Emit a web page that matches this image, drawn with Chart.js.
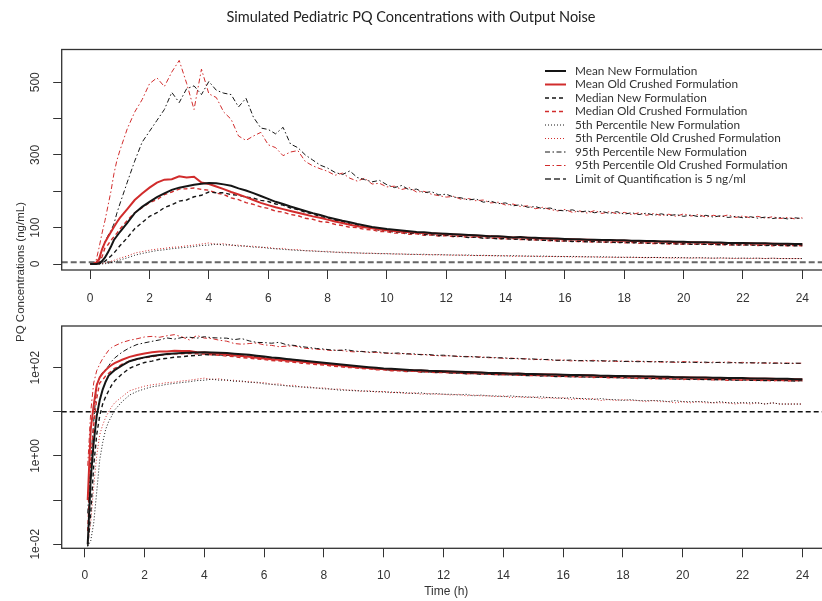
<!DOCTYPE html>
<html>
<head>
<meta charset="utf-8">
<script src="https://cdn.jsdelivr.net/npm/chart.js@4.4.1/dist/chart.umd.min.js"></script>
<style>
  html, body { margin: 0; padding: 0; overflow: hidden; background: #fff; }
  #wrap { position: relative; width: 822px; height: 601px; overflow: hidden; }
  canvas { position: absolute; left: 0; top: 0; }
</style>
</head>
<body>
<div id="wrap">
  <canvas id="linChart" width="832" height="601"></canvas>
  <canvas id="logChart" width="832" height="601"></canvas>
</div>
<script>
// time grid (h)
const times = [0, 0.1, 0.2, 0.3, 0.4, 0.5, 0.6, 0.7, 0.8, 0.9, 1,
  1.25, 1.5, 1.75, 2, 2.25, 2.5, 2.75, 3, 3.25, 3.5, 3.75, 4,
  4.25, 4.5, 4.75, 5, 5.25, 5.5, 5.75, 6, 6.25, 6.5, 6.75, 7,
  7.25, 7.5, 7.75, 8, 8.25, 8.5, 8.75, 9, 9.25, 9.5, 9.75, 10,
  10.25, 10.5, 10.75, 11, 11.25, 11.5, 11.75, 12, 12.25, 12.5, 12.75, 13,
  13.25, 13.5, 13.75, 14, 14.25, 14.5, 14.75, 15, 15.25, 15.5, 15.75, 16,
  16.25, 16.5, 16.75, 17, 17.25, 17.5, 17.75, 18, 18.25, 18.5, 18.75, 19,
  19.25, 19.5, 19.75, 20, 20.25, 20.5, 20.75, 21, 21.25, 21.5, 21.75, 22,
  22.25, 22.5, 22.75, 23, 23.25, 23.5, 23.75, 24];

// concentrations (ng/mL)
const meanNew = [0, 0.01, 0.3, 2, 8, 18, 32, 48, 66, 77, 88,
  113, 140, 157, 171, 184, 194, 204, 210, 214, 218, 221, 223,
  222, 219, 215, 208, 202, 195, 187, 179, 171, 165, 158, 152,
  146, 140, 135, 129, 124, 119, 115, 110, 106, 102, 99, 96,
  94, 92, 90, 88, 87, 85, 84, 83, 82, 81, 80, 79,
  78, 76, 76, 75, 73, 74, 72, 72, 71, 70, 70, 69,
  68, 68, 67, 67, 66, 66, 65, 65, 64, 64, 63, 63,
  62, 62, 61, 61, 60, 60, 60, 59, 59, 58, 58, 58,
  57, 57, 57, 56, 56, 56, 55, 55];
const meanOld = [0, 0.1, 4, 14, 40, 60, 74, 88, 102, 115, 127,
  151, 176, 194, 210, 224, 232, 233, 241, 238, 240, 224, 220,
  213, 206, 198, 191, 184, 176, 168, 162, 156, 151, 146, 141,
  136, 131, 127, 122, 117, 113, 108, 104, 101, 98, 95, 93,
  91, 89, 88, 86, 85, 84, 83, 82, 81, 80, 79, 78,
  77, 76, 75, 74, 73, 73, 72, 71, 70, 70, 69, 68,
  68, 67, 67, 66, 65, 65, 64, 64, 63, 63, 62, 62,
  61, 61, 60, 60, 60, 59, 59, 58, 58, 58, 57, 57,
  57, 56, 56, 56, 55, 55, 55, 54];
const medianNew = [0, 0.009, 0.05, 0.6, 3, 8, 15, 22, 30, 40, 50,
  72, 97, 114, 131, 141, 155, 163, 173, 176, 185, 189, 198,
  196, 196, 191, 189, 184, 181, 175, 172, 165, 162, 154, 150,
  142, 138, 130, 127, 120, 117, 110, 107, 101, 99, 93, 92,
  88, 88, 84, 85, 81, 81, 78, 79, 76, 76, 73, 74,
  71, 72, 69, 70, 68, 69, 66, 67, 65, 66, 63, 64,
  62, 63, 61, 62, 60, 61, 59, 60, 58, 59, 57, 58,
  56, 57, 55, 56, 54, 55, 54, 54, 53, 54, 52, 53,
  52, 52, 51, 52, 51, 51, 50, 51];
const medianOld = [0, 0.02, 0.6, 5, 20, 45, 53, 65, 75, 85, 96,
  120, 141, 155, 169, 177, 191, 198, 206, 207, 209, 205, 203,
  195, 191, 182, 177, 169, 164, 157, 153, 145, 143, 136, 133,
  126, 123, 117, 115, 109, 106, 101, 100, 95, 94, 89, 89,
  85, 85, 82, 83, 79, 80, 77, 78, 75, 76, 73, 74,
  72, 71, 70, 69, 69, 67, 67, 66, 66, 64, 64, 63,
  63, 61, 62, 60, 61, 59, 60, 58, 59, 57, 58, 56,
  57, 55, 56, 54, 56, 54, 55, 53, 54, 52, 53, 52,
  53, 51, 52, 50, 52, 50, 51, 50];
const p5New = [0, 0.009, 0.012, 0.03, 0.15, 0.8, 2, 4, 6, 8, 11,
  17, 24, 29, 33, 37, 39, 42, 44, 46, 48, 51, 52,
  55, 52, 53, 49, 50, 46, 47, 43, 42, 40, 39, 37,
  37, 35, 35, 33, 33, 31, 31, 30, 30, 29, 29, 28,
  28, 27, 27, 26, 27, 25, 26, 25, 25, 24, 25, 23,
  24, 23, 23, 22, 23, 22, 22, 21, 22, 21, 21, 20,
  21, 20, 20, 19, 20, 19, 19, 18, 19, 18, 18, 18,
  18, 17, 18, 17, 17, 17, 17, 16, 17, 16, 16, 16,
  16, 16, 15, 16, 15, 15, 15, 15];
const p5Old = [0, 0.01, 0.03, 0.2, 1, 3, 5, 7.5, 10, 13, 16,
  22, 30, 34, 38, 41, 43, 46, 47, 50, 52, 55, 58,
  54, 56, 51, 52, 48, 49, 45, 46, 42, 43, 39, 40,
  36, 37, 34, 35, 32, 33, 31, 31, 29, 30, 28, 29,
  27, 28, 26, 27, 25, 26, 25, 25, 24, 25, 23, 24,
  23, 23, 22, 23, 21, 22, 21, 22, 20, 21, 20, 21,
  19, 20, 19, 20, 18, 19, 18, 19, 18, 18, 17, 18,
  17, 17, 16, 17, 16, 17, 16, 16, 16, 16, 15, 16,
  15, 16, 15, 16, 15, 15, 15, 15];
const p95New = [0, 0.05, 0.8, 6, 40, 62, 78, 92, 110, 140, 165,
  225, 283, 335, 365, 395, 425, 472, 444, 482, 490, 466, 502,
  478, 470, 466, 432, 456, 404, 374, 370, 358, 376, 330, 320,
  300, 286, 272, 264, 252, 246, 256, 238, 232, 226, 230, 218,
  210, 216, 204, 206, 196, 199, 190, 192, 184, 182, 176, 179,
  170, 173, 166, 168, 160, 163, 156, 158, 152, 154, 148, 146,
  149, 143, 146, 141, 145, 139, 144, 137, 141, 136, 140, 134,
  138, 133, 136, 131, 135, 130, 134, 129, 133, 128, 131, 127,
  130, 126, 129, 125, 128, 124, 127, 125];
const p95Old = [0, 0.6, 10, 45, 85, 120, 160, 200, 248, 285, 312,
  372, 418, 452, 496, 512, 488, 528, 560, 497, 425, 536, 468,
  458, 418, 398, 352, 340, 352, 362, 328, 320, 298, 308, 312,
  282, 270, 262, 255, 244, 250, 236, 228, 236, 220, 222, 212,
  214, 205, 210, 198, 200, 192, 188, 184, 186, 178, 180, 174,
  176, 168, 170, 162, 165, 158, 160, 152, 156, 150, 146, 150,
  142, 146, 140, 147, 139, 144, 138, 142, 136, 141, 134, 139,
  133, 137, 131, 138, 132, 136, 129, 134, 130, 135, 128, 132,
  127, 131, 126, 130, 125, 128, 124, 127];

const loqLinear = 5;   // dashed line, top panel
const loqLog = 10;     // dashed line, bottom panel

const seriesNames = ['Mean New Formulation', 'Mean Old Crushed Formulation',
  'Median New Formulation', 'Median Old Crushed Formulation',
  '5th Percentile New Formulation', '5th Percentile Old Crushed Formulation',
  '95th Percentile New Formulation', '95th Percentile Old Crushed Formulation'];
const loqName = 'Limit of Quantification is 5 ng/ml';

const timeTicks = [0, 2, 4, 6, 8, 10, 12, 14, 16, 18, 20, 22, 24];
const linTicks = [0, 100, 200, 300, 400, 500];
const linTickLabels = ['0', '100', '', '300', '', '500'];
const logTicks = [0.01, 0.1, 1, 10, 100];
const logTickLabels = ['1e-02', '', '1e+00', '', '1e+02'];

const xRangeTop = [-0.96, 24.96];
const xRangeBottom = [-0.77, 24.95];

const BLACK = '#151515';
const RED = '#d12c2c';
const seriesStyle = [
  {color: BLACK, width: 2, dash: []},
  {color: RED, width: 2, dash: []},
  {color: BLACK, width: 1.4, dash: [4, 3]},
  {color: RED, width: 1.4, dash: [4, 3]},
  {color: BLACK, width: 1, dash: [1, 2]},
  {color: RED, width: 1, dash: [1, 2]},
  {color: BLACK, width: 1, dash: [5, 2.5, 1.5, 2.5]},
  {color: RED, width: 1, dash: [5, 2.5, 1.5, 2.5]},
];
const seriesValues = [meanNew, meanOld, medianNew, medianOld, p5New, p5Old, p95New, p95Old];

Chart.defaults.font.family = '"Liberation Sans", Arial, sans-serif';
Chart.defaults.color = '#333';

function buildDatasets(logScale, xRange, loq, loqStyle) {
  const sets = seriesValues.map((vals, i) => ({
    label: seriesNames[i],
    data: times.map((t, k) => ({x: t, y: (logScale && vals[k] <= 0) ? null : vals[k]})),
    borderColor: seriesStyle[i].color,
    borderWidth: seriesStyle[i].width,
    borderDash: seriesStyle[i].dash,
    pointRadius: 0,
    fill: false,
    tension: 0,
  }));
  sets.push({
    label: loqName,
    data: xRange.map(x => ({x: x, y: loq})),
    borderColor: loqStyle.color,
    borderWidth: loqStyle.width,
    borderDash: loqStyle.dash,
    pointRadius: 0,
    fill: false,
  });
  return sets;
}

function xScale(range, height, labelPad, title) {
  return {
    type: 'linear',
    min: range[0],
    max: range[1],
    afterBuildTicks: s => { s.ticks = timeTicks.map(v => ({value: v})); },
    afterFit: s => { s.height = height; },
    grid: {drawOnChartArea: false, drawTicks: true, tickLength: 9, color: '#333', lineWidth: 1},
    border: {display: false},
    ticks: {font: {size: 12}, color: '#333', padding: labelPad, maxRotation: 0, autoSkip: false},
    title: title
      ? {display: true, text: title, font: {size: 12}, color: '#333', padding: {top: 0, bottom: 2}}
      : {display: false},
  };
}

function yScale(type, min, max, tickVals) {
  return {
    type: type,
    min: min,
    max: max,
    afterBuildTicks: s => { s.ticks = tickVals.map(v => ({value: v})); },
    afterFit: s => { s.width = 61.7; },
    grid: {drawOnChartArea: false, drawTicks: true, tickLength: 8.5, color: '#333', lineWidth: 1},
    border: {display: false},
    ticks: {display: false},
  };
}

// box around the panel + rotated y tick labels (R style)
function panelFrame(tickVals, tickLabels) {
  return {
    id: 'panelFrame',
    afterDraw(chart) {
      const {ctx, chartArea: a} = chart;
      const y = chart.scales.y;
      ctx.save();
      ctx.strokeStyle = '#333';
      ctx.lineWidth = 1.3;
      ctx.setLineDash([]);
      ctx.strokeRect(a.left, a.top, a.right - a.left, a.bottom - a.top);
      ctx.fillStyle = '#333';
      ctx.font = '12px "Liberation Sans", Arial, sans-serif';
      ctx.textAlign = 'center';
      ctx.textBaseline = 'middle';
      tickVals.forEach((v, i) => {
        if (!tickLabels[i]) return;
        ctx.save();
        ctx.translate(36, y.getPixelForValue(v));
        ctx.rotate(-Math.PI / 2);
        ctx.fillText(tickLabels[i], 0, 0);
        ctx.restore();
      });
      ctx.restore();
    }
  };
}

// title, shared y-axis label and the legend inside the top panel
const header = {
  id: 'header',
  afterDraw(chart) {
    const ctx = chart.ctx;
    ctx.save();
    ctx.fillStyle = '#222';
    ctx.textAlign = 'center';
    ctx.textBaseline = 'middle';
    ctx.font = '14.5px Lato, sans-serif';
    ctx.fillText('Simulated Pediatric PQ Concentrations with Output Noise', 411, 17);

    ctx.font = '11.5px "Liberation Sans", Arial, sans-serif';
    ctx.fillStyle = '#333';
    ctx.save();
    ctx.translate(21, 272);
    ctx.rotate(-Math.PI / 2);
    ctx.fillText('PQ Concentrations (ng/mL)', 0, 0);
    ctx.restore();

    ctx.font = '11.8px Lato, sans-serif';
    ctx.textAlign = 'left';
    chart.data.datasets.forEach((ds, i) => {
      const yy = 71 + i * 13.5;
      ctx.strokeStyle = ds.borderColor;
      ctx.lineWidth = ds.borderWidth;
      ctx.setLineDash(ds.borderDash || []);
      ctx.beginPath();
      ctx.moveTo(545, yy);
      ctx.lineTo(566, yy);
      ctx.stroke();
      ctx.fillStyle = '#333';
      ctx.fillText(ds.label, 575, yy);
    });
    ctx.restore();
  }
};

const common = {
  responsive: false,
  animation: false,
  events: [],
  plugins: {legend: {display: false}, tooltip: {enabled: false}},
};

new Chart(document.getElementById('linChart'), {
  type: 'line',
  data: {datasets: buildDatasets(false, xRangeTop, loqLinear, {color: '#666', width: 2, dash: [6, 3]})},
  options: Object.assign({}, common, {
    layout: {padding: {top: 49.5, left: 0, right: 1.2, bottom: 296}},
    scales: {
      x: xScale(xRangeTop, 35, 12.8, null),
      y: yScale('linear', -16.5, 590, linTicks),
    },
  }),
  plugins: [panelFrame(linTicks, linTickLabels), header],
});

new Chart(document.getElementById('logChart'), {
  type: 'line',
  data: {datasets: buildDatasets(true, xRangeBottom, loqLog, {color: '#111', width: 1.4, dash: [5, 3]})},
  options: Object.assign({}, common, {
    layout: {padding: {top: 326, left: 0, right: 1.2, bottom: 0}},
    scales: {
      x: xScale(xRangeBottom, 52.7, 11.5, 'Time (h)'),
      y: yScale('logarithmic', 0.0081, 879, logTicks),
    },
  }),
  plugins: [panelFrame(logTicks, logTickLabels)],
});
</script>
</body>
</html>
